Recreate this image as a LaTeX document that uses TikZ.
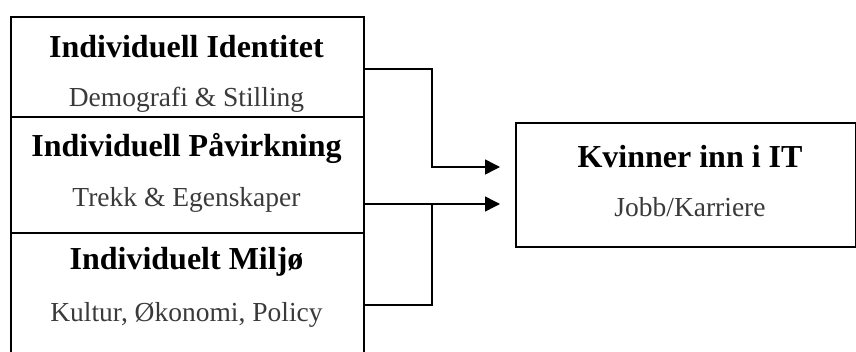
\documentclass[tikz,border=0pt]{standalone}
\usepackage{fontspec}
\setmainfont{Liberation Serif}
\usetikzlibrary{arrows.meta}
\definecolor{subgray}{HTML}{3A3A3A}
\tikzset{
  x=1pt, y=-1pt,
  box/.style={draw=black, line width=1.5pt, inner sep=0pt, anchor=north west},
  title/.style={font=\bfseries\fontsize{32}{36}\selectfont, text=black},
  sub/.style={font=\fontsize{27.5}{31}\selectfont, text=subgray},
  conn/.style={line width=1.5pt, draw=black},
  arr/.style={conn, -{Triangle[length=15pt,width=15pt]}},
}
\begin{document}
\begin{tikzpicture}
\useasboundingbox (0,0) rectangle (856,351);
\clip (0,0) rectangle (856,351);
% left boxes
\node[box, minimum width=353pt, minimum height=100pt] (b1) at (10,16) {};
\node[box, minimum width=353pt, minimum height=116pt] (b2) at (10,116) {};
\node[box, minimum width=353pt, minimum height=150pt] (b3) at (10,232) {};
% right box
\node[box, minimum width=340pt, minimum height=124pt] (r) at (515,122) {};
% texts
\node[title] (t1) at (186.5,47) {Individuell Identitet};
\node[sub]   (s1) at (186.5,100) {Demografi \& Stilling};
\node[title] (t2) at (186.5,148) {Individuell Påvirkning};
\node[sub]   (s2) at (186.5,200) {Trekk \& Egenskaper};
\node[title] (t3) at (186.5,262) {Individuelt Miljø};
\node[sub]   (s3) at (186.5,315) {Kultur, Økonomi, Policy};
\node[title] (rt) at (690,157) {Kvinner inn i IT};
\node[sub]   (rs) at (690,207) {Jobb/Karriere};
% connector points
\coordinate (o1) at (363,69);
\coordinate (o2) at (363,204);
\coordinate (o3) at (363,305);
\coordinate (in1) at (500,167);
\coordinate (in2) at (500,204);
\coordinate (j) at (432,204);
% connectors
\draw[arr] (o1) -| (432,167) -- (in1);
\draw[arr] (o2) -- (in2);
\draw[conn] (o3) -| (j);
\end{tikzpicture}
\end{document}
